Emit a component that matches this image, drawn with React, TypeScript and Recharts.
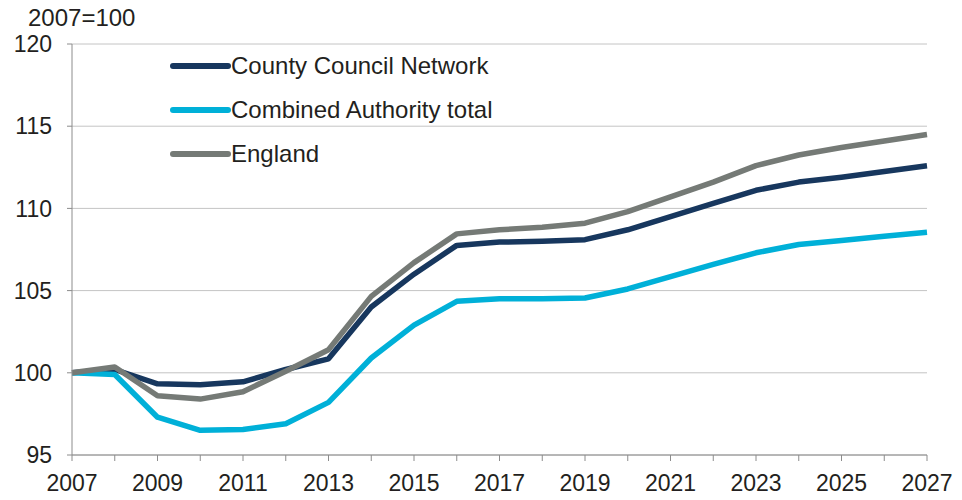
import { LineChart, Line, XAxis, YAxis, CartesianGrid, Legend } from 'recharts';

const YEARS = [2007, 2008, 2009, 2010, 2011, 2012, 2013, 2014, 2015, 2016, 2017, 2018, 2019, 2020, 2021, 2022, 2023, 2024, 2025, 2026, 2027];

const COUNTY = [100, 100.2, 99.33, 99.27, 99.45, 100.2, 100.85, 104.0, 106.0, 107.75, 107.95, 108.0, 108.1, 108.7, 109.5, 110.3, 111.1, 111.6, 111.9, 112.25, 112.6];
const COMBINED = [100, 99.9, 97.3, 96.5, 96.55, 96.9, 98.2, 100.9, 102.9, 104.35, 104.5, 104.5, 104.55, 105.1, 105.85, 106.6, 107.3, 107.8, 108.05, 108.3, 108.55];
const ENGLAND = [100, 100.35, 98.6, 98.4, 98.85, 100.1, 101.4, 104.65, 106.7, 108.45, 108.7, 108.85, 109.1, 109.8, 110.7, 111.6, 112.6, 113.25, 113.7, 114.1, 114.5];

const Y_TICKS = [95, 100, 105, 110, 115, 120];
const X_TICKS = YEARS;

const SERIES = [
  { key: 'county', name: 'County Council Network', color: '#17375e' },
  { key: 'combined', name: 'Combined Authority total', color: '#00b0d8' },
  { key: 'england', name: 'England', color: '#757a76' },
];

const data = YEARS.map((year, i) => ({
  year,
  county: COUNTY[i],
  combined: COMBINED[i],
  england: ENGLAND[i],
}));

const FONT = '"Liberation Sans", Arial, sans-serif';
const TEXT = '#231f20';
const AXIS = '#8c8c8c';

function LegendBox() {
  return (
    <div style={{ fontFamily: FONT, fontSize: 24, color: TEXT }}>
      {SERIES.map((s) => (
        <div key={s.key} style={{ display: 'flex', alignItems: 'center', height: 44 }}>
          <svg width={61} height={10} style={{ display: 'block' }}>
            <line x1={3} y1={5} x2={58} y2={5} stroke={s.color} strokeWidth={6} strokeLinecap="round" />
          </svg>
          <span style={{ lineHeight: '24px' }}>{s.name}</span>
        </div>
      ))}
    </div>
  );
}

export default function App() {
  return (
    <div style={{ position: 'relative', width: 946, height: 490, fontFamily: FONT }}>
      <div style={{ position: 'absolute', left: 20, top: -2, fontSize: 24, lineHeight: '24px', color: TEXT }}>
        2007=100
      </div>
      <LineChart width={946} height={490} data={data} margin={{ top: 36, right: 27, left: 0, bottom: 0 }}>
        <CartesianGrid horizontal vertical={false} stroke="#c4c4c4" strokeWidth={1} />
        <XAxis
          dataKey="year"
          type="number"
          domain={[2007, 2027]}
          ticks={X_TICKS}
          interval={0}
          tickFormatter={(v: number) => (v % 2 === 1 ? String(v) : '')}
          height={43}
          tickSize={6}
          tickMargin={14}
          stroke={AXIS}
          tick={{ fill: TEXT, fontSize: 23 }}
        />
        <YAxis
          domain={[95, 120]}
          ticks={Y_TICKS}
          interval={0}
          width={64}
          tickSize={5}
          tickMargin={15}
          stroke={AXIS}
          tick={{ fill: TEXT, fontSize: 23 }}
        />
        <Legend
          layout="vertical"
          align="center"
          verticalAlign="middle"
          content={() => <LegendBox />}
          wrapperStyle={{ left: 162, top: 36, width: 'auto', height: 'auto' }}
        />
        {SERIES.map((s) => (
          <Line
            key={s.key}
            type="linear"
            dataKey={s.key}
            name={s.name}
            stroke={s.color}
            strokeWidth={5.5}
            strokeLinejoin="round"
            dot={false}
            activeDot={false}
            isAnimationActive={false}
          />
        ))}
      </LineChart>
    </div>
  );
}
